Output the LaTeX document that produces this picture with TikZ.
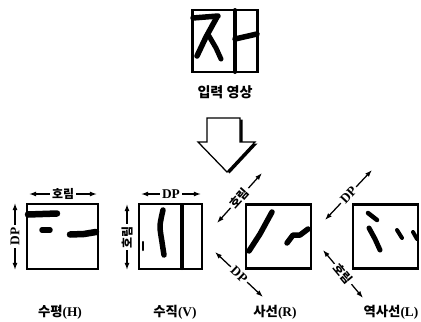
\documentclass[tikz,border=0pt]{standalone}
\usepackage{fontspec}
\setmainfont{Liberation Serif}
\newfontfamily\kr{Noto Sans CJK KR}
\usetikzlibrary{arrows.meta,positioning,calc}

\begin{document}
\begin{tikzpicture}[
  x=0.025cm, y=-0.025cm,
  imgbox/.style={rectangle, draw, line width=1.5pt, inner sep=0pt,
                 minimum width=1.625cm, minimum height=1.6cm},
  ink/.style={line width={#1*0.025cm}, line cap=round, line join=round},
  caption/.style={font=\kr\bfseries\fontsize{9.5}{10}\selectfont},
  dim/.style={{Latex[length=5pt,width=3.5pt]}-{Latex[length=5pt,width=3.5pt]},
              line width=0.9pt},
  dimtext/.style={font=\kr\bfseries\fontsize{8.5}{9}\selectfont,
                  fill=white, inner sep=1.5pt, sloped},
  dptext/.style={dimtext, font=\bfseries\fontsize{9.5}{10}\selectfont}
]
  \useasboundingbox (0,0) rectangle (421,322);

  % input image
  \node[imgbox, minimum height=1.55cm] (in) at (225,41) {};
  \node[caption, font=\kr\bfseries\fontsize{10}{11}\selectfont,
        below=0.2cm of in] (inlabel) {입력 영상};
  \draw[ink=5.5] (193,18) -- (218,16);
  \draw[ink=5.5] (217,17) -- (206,37) -- (197,56);
  \draw[ink=5] (209,36) -- (216,48) -- (221,59);
  \draw[ink=4] (235,10) -- (235,72);
  \draw[ink=5.5] (235,39) -- (257,34);

  % big hollow arrow
  \fill[shift={(2.5,1.5)}] (207,118) -- (240,118) -- (240,142) -- (255,142)
    -- (227,172) -- (198,142) -- (207,142) -- cycle;
  \draw[fill=white, line width=0.9pt] (207,118) -- (240,118) -- (240,142)
    -- (255,142) -- (227,172) -- (198,142) -- (207,142) -- cycle;

  % four directions
  \node[imgbox, minimum width=1.775cm, minimum height=1.625cm] (H) at (62.5,236.5) {};
  \node[imgbox, minimum width=1.575cm, minimum height=1.625cm] (V) at (170.5,236.5) {};
  \node[imgbox] (R) at (278.5,236.5) {};
  \node[imgbox] (L) at (385.5,236.5) {};

  \node[caption] (Hlabel) at (60,312) {수평{\rmfamily(H)}};
  \node[caption] (Vlabel) at (175,312) {수직{\rmfamily(V)}};
  \node[caption] (Rlabel) at (275,312) {사선{\rmfamily(R)}};
  \node[caption] (Llabel) at (391,312) {역사선{\rmfamily(L)}};

  % horizontal
  \draw[ink=6.5] (28,214.5) -- (57,213.5);
  \draw[ink=5.5] (42,230) -- (50,230);
  \draw[ink=6.5] (70,234.5) -- (84,234) -- (96,232);
  \coordinate (Hw) at (29,194);  \coordinate (He) at (97,194);
  \coordinate (Hs) at (15,270);  \coordinate (Hn) at (15,203);
  \draw[dim] (Hw) -- node[dimtext] {호림} (He);
  \draw[dim] (Hs) -- node[dptext] {DP} (Hn);

  % vertical
  \draw[ink=5.5] plot[smooth] coordinates {(163,210) (160,226) (162,242) (164,255)};
  \draw[ink=4] (182,205) -- (182,268);
  \draw[ink=2.5] (143,242) -- (143,250);
  \coordinate (Vw) at (141,194); \coordinate (Ve) at (201,194);
  \coordinate (Vs) at (127,270); \coordinate (Vn) at (127,204);
  \draw[dim] (Vw) -- node[dptext] {DP} (Ve);
  \draw[dim] (Vs) -- node[dimtext] {호림} (Vn);

  % diagonal
  \draw[ink=5.5] (249,251) -- (260,234) -- (272,212);
  \draw[ink=5.5] (287,243) -- (293,235) -- (300,235) -- (308,229);
  \coordinate (Ra) at (217,223); \coordinate (Rb) at (262,173);
  \coordinate (Rc) at (215,252); \coordinate (Rd) at (263,297);
  \draw[dim] (Ra) -- node[dimtext] {호림} (Rb);
  \draw[dim] (Rc) -- node[dptext] {DP} (Rd);

  % anti-diagonal
  \draw[ink=4.5] (368,213) -- (377,220);
  \draw[ink=5] (369,228) -- (375,239) -- (380,250);
  \draw[ink=4] (397,230) -- (402,238);
  \draw[ink=4] (413,232) -- (417,239);
  \coordinate (La) at (325,220); \coordinate (Lb) at (372,170);
  \coordinate (Lc) at (323,250); \coordinate (Ld) at (363,298);
  \draw[dim] (La) -- node[dptext] {DP} (Lb);
  \draw[dim] (Lc) -- node[dimtext] {호림} (Ld);
\end{tikzpicture}
\end{document}
